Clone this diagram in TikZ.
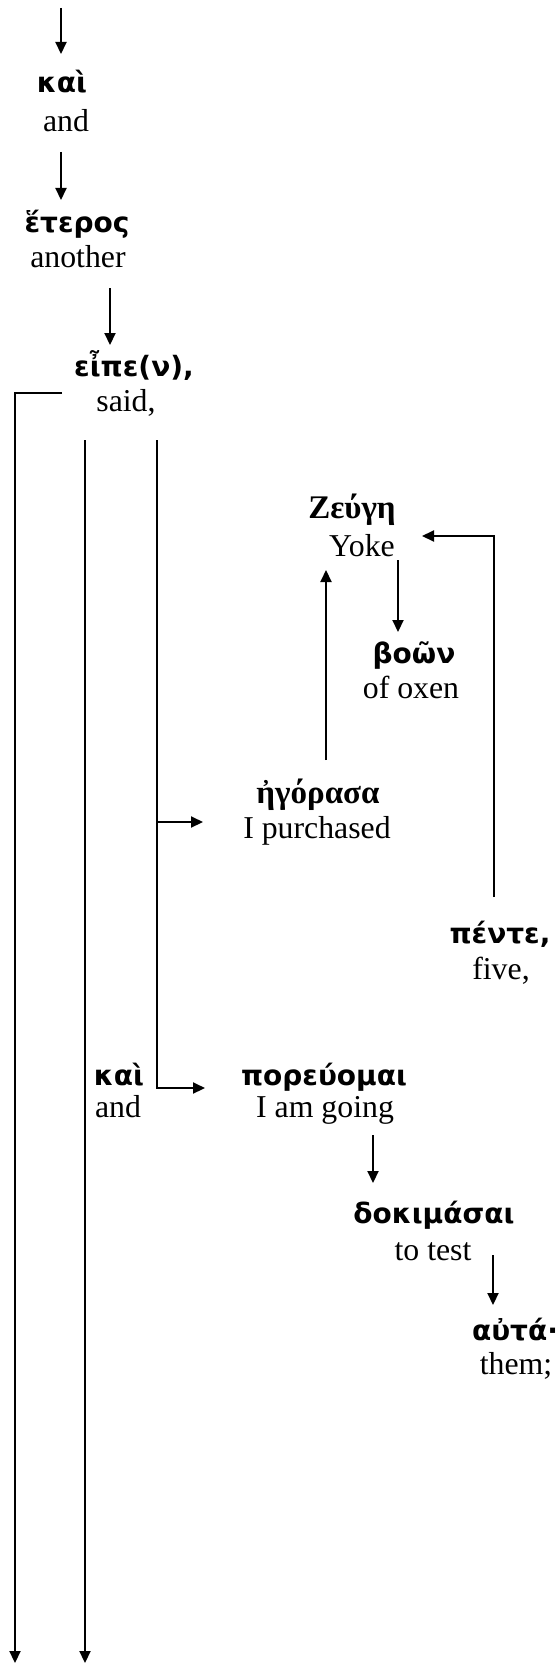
\documentclass[tikz,border=0pt]{standalone}
\usepackage{fontspec}
\setmainfont{Liberation Serif}
\newfontfamily\gksans{DejaVu Sans}
\usetikzlibrary{arrows.meta}
\begin{document}
\begin{tikzpicture}[x=0.5pt,y=-0.5pt,
  en/.style={anchor=base,inner sep=0pt,font=\fontsize{15.9}{18}\selectfont},
  gs/.style={anchor=base,inner sep=0pt,font=\gksans\bfseries\fontsize{14}{16}\selectfont},
  gr/.style={anchor=base,inner sep=0pt,font=\bfseries\fontsize{16.5}{18}\selectfont},
  conn/.style={line width=1.05pt},
  arr/.style={conn,-{Triangle[length=6pt,width=5.5pt]}}]
\useasboundingbox (0,0) rectangle (560,1664);
% words
\node[gs] (kaiA) at (62,93) {καὶ};
\node[en] (andA) at (66,132) {and};
\node[gs] (heteros) at (77,233) {ἕτερος};
\node[en] (another) at (78,267) {another};
\node[gs] (eipen) at (134,376) {εἶπε(ν),};
\node[en] (said) at (126,411) {said,};
\node[gr] (zeugh) at (352,518) {Ζεύγη};
\node[en] (yoke) at (362,556) {Yoke};
\node[gs] (bown) at (414,663) {βοῶν};
\node[en] (oxen) at (411,698) {of oxen};
\node[gr] (hgorasa) at (318,803) {ἠγόρασα};
\node[en] (purch) at (317,838) {I purchased};
\node[gs] (pente) at (500,943) {πέντε,};
\node[en] (five) at (501,979) {five,};
\node[gs] (kaiB) at (119,1085) {καὶ};
\node[en] (andB) at (118,1117) {and};
\node[gs] (poreuomai) at (324,1085) {πορεύομαι};
\node[en] (going) at (325,1117) {I am going};
\node[gs] (dokimasai) at (434,1223) {δοκιμάσαι};
\node[en] (totest) at (433,1260) {to test};
\node[gs] (auta) at (515,1340) {αὐτά·};
\node[en] (them) at (516,1374) {them;};
% connector points
\coordinate (a1s) at (61,8);    \coordinate (a1e) at (61,54);
\coordinate (a2s) at (61,152);  \coordinate (a2e) at (61,200);
\coordinate (a3s) at (110,288); \coordinate (a3e) at (110,345);
\coordinate (l1a) at (62,393);  \coordinate (l1b) at (15,393);  \coordinate (l1c) at (15,1663);
\coordinate (l2a) at (85,440);  \coordinate (l2c) at (85,1663);
\coordinate (l3a) at (157,440); \coordinate (l3b) at (157,1088); \coordinate (l3c) at (205,1088);
\coordinate (l3m) at (157,822); \coordinate (l3n) at (203,822);
\coordinate (ups) at (326,760); \coordinate (upe) at (326,570);
\coordinate (yks) at (398,560); \coordinate (yke) at (398,632);
\coordinate (p5a) at (494,897); \coordinate (p5b) at (494,536); \coordinate (p5c) at (422,536);
\coordinate (pgs) at (373,1135); \coordinate (pge) at (373,1183);
\coordinate (dks) at (493,1255); \coordinate (dke) at (493,1305);
% connectors
\draw[arr] (a1s) -- (a1e);
\draw[arr] (a2s) -- (a2e);
\draw[arr] (a3s) -- (a3e);
\draw[arr] (l1a) -- (l1b) -- (l1c);
\draw[arr] (l2a) -- (l2c);
\draw[arr] (l3a) -- (l3b) -- (l3c);
\draw[arr] (l3m) -- (l3n);
\draw[arr] (ups) -- (upe);
\draw[arr] (yks) -- (yke);
\draw[arr] (p5a) -- (p5b) -- (p5c);
\draw[arr] (pgs) -- (pge);
\draw[arr] (dks) -- (dke);
\end{tikzpicture}
\end{document}
